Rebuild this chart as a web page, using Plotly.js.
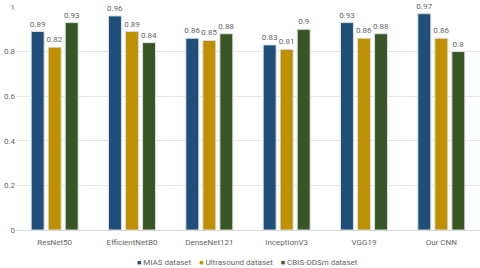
<!DOCTYPE html>
<html><head><meta charset="utf-8">
<script src="https://cdn.plot.ly/plotly-3.0.1.min.js"></script>
<style>html,body{margin:0;padding:0;background:#fff}</style>
</head><body>
<div id="chart" style="width:480px;height:268px"></div>
<script>
const categories = ["ResNet50","EfficientNetB0","DenseNet121","InceptionV3","VGG19","Our CNN"];
const miasValues = [0.89,0.96,0.86,0.83,0.93,0.97];
const ultrasoundValues = [0.82,0.89,0.85,0.81,0.86,0.86];
const cbisValues = [0.93,0.84,0.88,0.9,0.88,0.8];
const seriesNames = ["MIAS dataset","Ultrasound dataset","CBIS-DDSm dataset"];
const colors = ["#1F4E79","#BF9000","#375623"];
const FONT = 'Roboto, sans-serif';
const TXT = '#666666';
const vals = [miasValues, ultrasoundValues, cbisValues];
const traces = vals.map((v,i)=>({
  type:'bar', x:categories, y:v, name:seriesNames[i], showlegend:false,
  marker:{color:colors[i], line:{color:'#d9dde3', width:1}},
  text:v.map(String), textposition:'outside', cliponaxis:false, constraintext:'none',
  textfont:{size:8, color:TXT, family:FONT}
}));
const W = 480, L = 16, R = 0, T = 7, B = 38, H = 268;
const legendText = seriesNames.map((n,i)=>'<span style="color:'+colors[i]+';font-size:7px">■</span> '+n).join('&nbsp;&nbsp;&nbsp;&nbsp;');
const annotations = [{
  xref:'paper', yref:'paper', x:(247-L)/(W-L-R), y:(H-B-262)/(H-T-B),
  xanchor:'center', yanchor:'middle', showarrow:false,
  text:legendText,
  font:{size:8, color:TXT, family:FONT}
}];
const layout = {
  width:W, height:H,
  margin:{l:L, r:R, t:T, b:B},
  barmode:'group', bargap:0.34, bargroupgap:0.24,
  paper_bgcolor:'#fff', plot_bgcolor:'#fff',
  font:{family:FONT, size:8, color:TXT},
  xaxis:{tickfont:{size:8, color:TXT, family:FONT}, showline:true, linecolor:'#d9d9d9', ticks:'outside', ticklen:4, tickcolor:'#fff', automargin:false},
  yaxis:{range:[0,1], tickvals:[0,0.2,0.4,0.6,0.8,1], ticktext:['0','0.2','0.4','0.6','0.8','1'],
    gridcolor:'#e6e6e6', zeroline:false, showline:false, tickfont:{size:8, color:TXT, family:FONT}, automargin:false, ticklen:0},
  annotations: annotations,
  showlegend:false
};
Plotly.newPlot('chart', traces, layout, {displayModeBar:false, staticPlot:true});
</script>
</body></html>
